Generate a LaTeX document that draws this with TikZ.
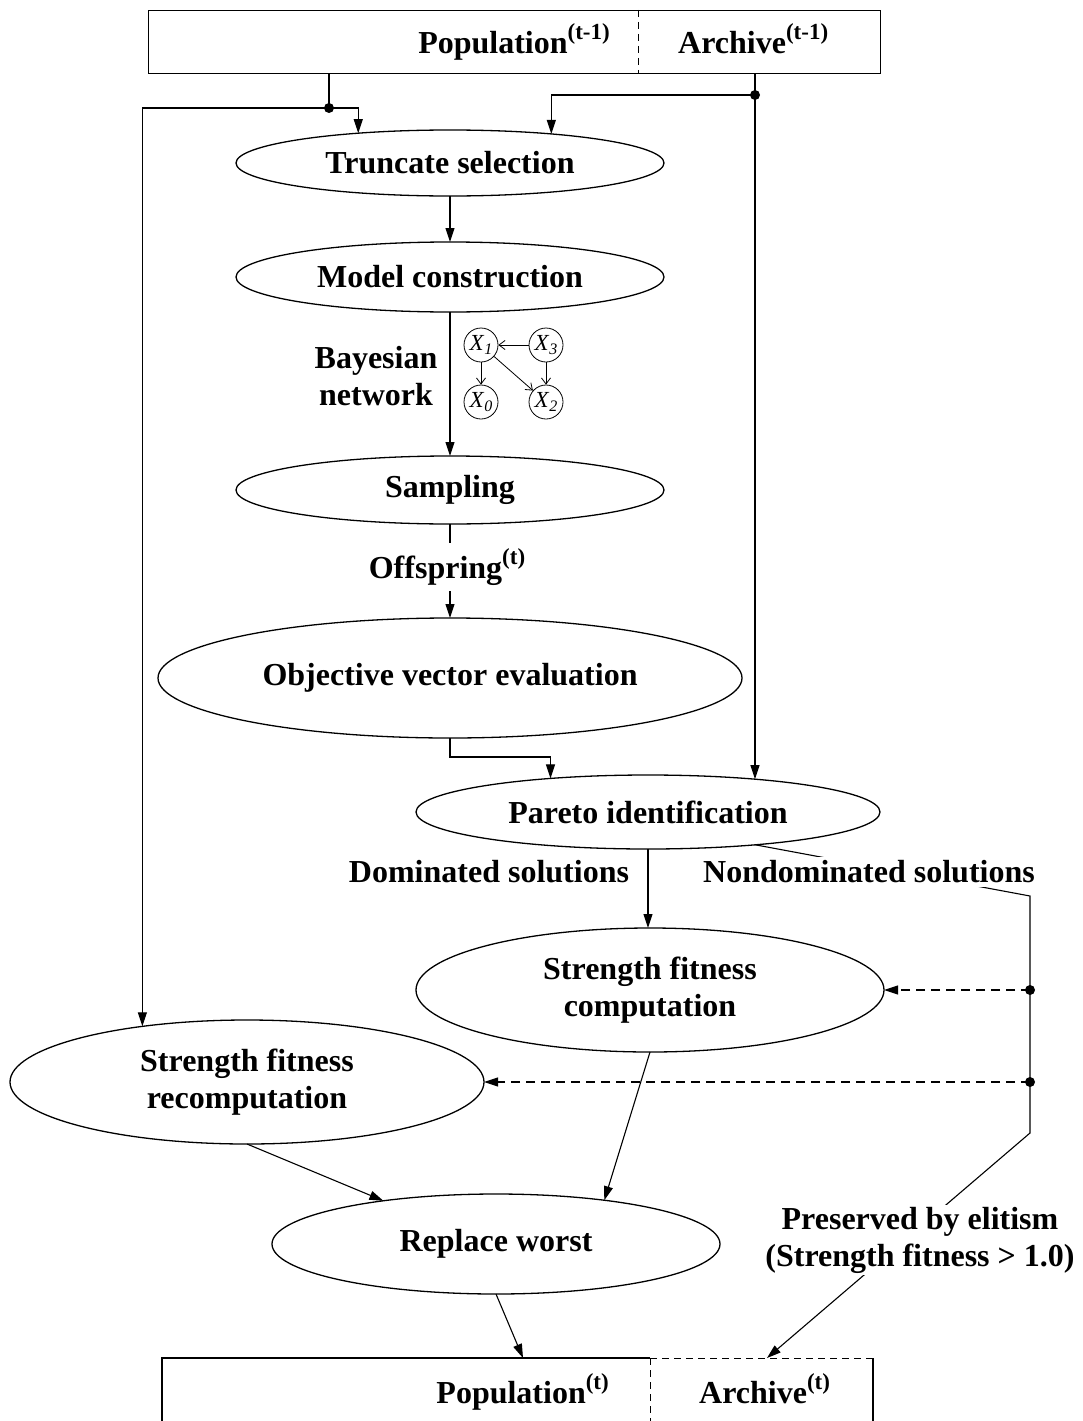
\documentclass[tikz,border=0pt]{standalone}
\usepackage{fontspec}
\setmainfont{Liberation Serif}
\usetikzlibrary{arrows.meta,shapes.geometric,calc}

% raised index such as (t-1)
\newcommand\upidx[1]{\raisebox{0.42em}{\fontsize{23}{23}\selectfont #1}}
% Bayesian-network variable X_i
\newcommand\bnvar[1]{\textit{X}\raisebox{-0.35ex}{\fontsize{16}{16}\selectfont\itshape #1}}
\newcommand\bigfont{\fontsize{32}{37}\selectfont\bfseries}

\tikzset{
  proc/.style={ellipse, draw, line width=1.3pt, inner sep=0pt, outer sep=0pt,
               align=center, font=\bigfont},
  link/.style={line width=1.1pt},
  arr/.style={line width=1.1pt, -{Triangle[length=14pt,width=9pt]}},
  dasharr/.style={arr, dash pattern=on 9pt off 6pt},
  divider/.style={line width=0.8pt, dash pattern=on 7pt off 5pt},
  junction/.style={circle, fill, inner sep=0pt, minimum size=10pt},
  lbl/.style={font=\bigfont, align=center, inner sep=2pt},
  boxline/.style={line width=1.3pt},
  bnnode/.style={circle, draw, line width=0.8pt, minimum size=34pt, inner sep=0pt,
                 font=\fontsize{23}{23}\selectfont},
  bnarr/.style={line width=0.8pt, -{Straight Barb[length=6pt,width=9pt]}},
}

\begin{document}
\begin{tikzpicture}[x=1pt,y=-1pt]
\useasboundingbox (0,0) rectangle (1083,1421);

% ---------- previous generation ----------
\node[draw, boxline, minimum width=732pt, minimum height=63pt, inner sep=0pt,
      anchor=north west] (topbox) at (148,10) {};
\coordinate (tdiv) at (638,40);
\draw[divider] (tdiv |- topbox.north) -- (tdiv |- topbox.south);
\node[lbl, anchor=base east] (tpop) at (612,53) {Population\upidx{(t-1)}};
\node[lbl, anchor=base west] (tarc) at (676,53) {Archive\upidx{(t-1)}};

% ---------- process steps ----------
\node[proc, minimum width=428pt, minimum height=66pt] (trunc) at (450,163) {Truncate selection};
\node[proc, minimum width=428pt, minimum height=70pt] (model) at (450,277) {Model construction};
\node[proc, minimum width=428pt, minimum height=68pt] (sampl) at (450,490) {Sampling};
\node[proc, minimum width=584pt, minimum height=120pt] (objv) at (450,678) {Objective vector evaluation};
\node[proc, minimum width=464pt, minimum height=74pt] (pareto) at (648,812) {Pareto identification};
\node[proc, minimum width=468pt, minimum height=124pt] (sfc) at (650,990) {Strength fitness\\computation};
\node[proc, minimum width=474pt, minimum height=124pt] (sfr) at (247,1082) {Strength fitness\\recomputation};
\node[proc, minimum width=448pt, minimum height=100pt] (repl) at (496,1244) {Replace worst};

% ---------- labels on the main flow ----------
\node[lbl] (bnl) at (376,376) {Bayesian\\network};
\node[lbl, minimum height=48pt, inner sep=0pt] (offs) at (447,567) {Offspring\upidx{(t)}};
\node[lbl] (dom) at (489,872) {Dominated solutions};

% ---------- Bayesian network sketch ----------
\node[bnnode] (x1) at (481,345) {\bnvar{1}};
\node[bnnode] (x3) at (546,345) {\bnvar{3}};
\node[bnnode] (x0) at (481,402) {\bnvar{0}};
\node[bnnode] (x2) at (546,402) {\bnvar{2}};
\draw[bnarr] (x3) -- (x1);
\draw[bnarr] (x1) -- (x0);
\draw[bnarr] (x1) -- (x2);
\draw[bnarr] (x3) -- (x2);

% ---------- inputs from the previous generation ----------
\node[junction] (pdot) at (329,108) {};
\node[junction] (adot) at (755,95) {};
\draw[link] (pdot |- topbox.south) -- (pdot.center);
\draw[arr] (pdot.center) -| (trunc.162.7);
\draw[arr] (pdot.center) -| (sfr.152.1);
\draw[link] (adot |- topbox.south) -- (adot.center);
\draw[arr] (adot.center) -| (trunc.16.9);
\draw[arr] (adot.center) -- (adot |- pareto.17);

% ---------- main flow ----------
\draw[arr] (trunc.south) -- (model.north);
\draw[arr] (model.south) -- (sampl.north);
\draw[link] (sampl.south) -- (sampl.south |- offs.north);
\draw[arr] (objv.north |- offs.south) -- (objv.north);
\draw[arr] (objv.south) -- ++(0,19) -| (pareto.161.8);
\draw[arr] (pareto.south) -- (pareto.south |- sfc.north);
\draw[arr] (sfc.south) -- (repl.22.1);
\draw[arr] (sfr.south) -- (repl.159.5);

% ---------- next generation ----------
\coordinate (bl) at (162,1358);
\coordinate (bd) at (650,1358);
\coordinate (br) at (873,1358);
\coordinate (popin) at (523,1358);
\coordinate (arcin) at (767,1358);
\draw[boxline] (bl |- 0,1421) -- (bl) -- (bd);
\draw[divider] (bd) -- (br);
\draw[boxline] (br) -- (br |- 0,1421);
\draw[divider] (bd) -- (bd |- 0,1421);
\node[lbl, anchor=base east] (bpop) at (611,1403) {Population\upidx{(t)}};
\node[lbl, anchor=base west] (barc) at (697,1403) {Archive\upidx{(t)}};
\draw[arr] (repl.south) -- (popin);

% ---------- nondominated solutions kept by elitism ----------
\coordinate (ndA) at (1030,896);
\coordinate (ndB) at (1030,1133);
\draw[arr] (pareto.343.9) -- (ndA) -- (ndB) -- (arcin);
\node[junction] (j1) at (ndA |- sfc.east) {};
\node[junction] (j2) at (ndA |- sfr.east) {};
\draw[dasharr] (j1.center) -- (sfc.east);
\draw[dasharr] (j2.center) -- (sfr.east);
\node[lbl, fill=white, inner sep=4pt] (ndl) at (869,872) {Nondominated solutions};
\node[lbl, fill=white] (eli) at (920,1240) {Preserved by elitism\\(Strength fitness > 1.0)};
\end{tikzpicture}
\end{document}
